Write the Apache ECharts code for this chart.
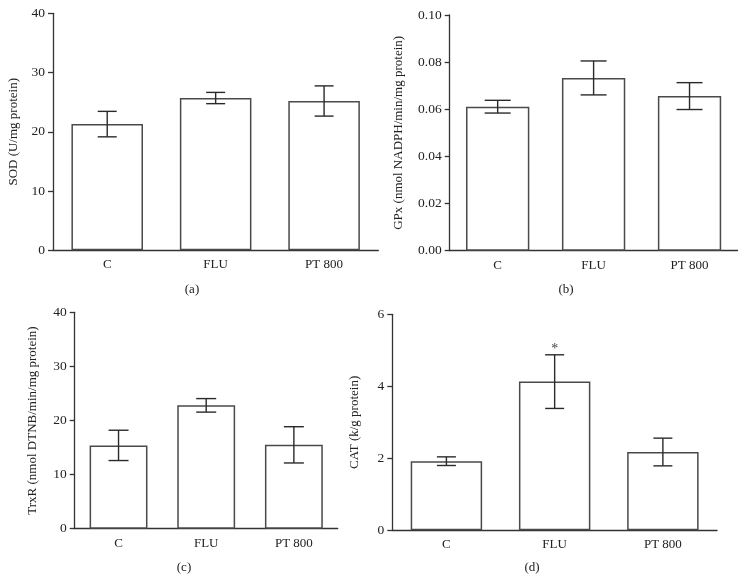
<!DOCTYPE html>
<html>
<head>
<meta charset="utf-8">
<script src="https://cdn.jsdelivr.net/npm/echarts@6/dist/echarts.min.js"></script>
<style>
html,body{margin:0;padding:0;background:#fff;}
#chart{width:746px;height:582px;}
</style>
</head>
<body>
<div id="chart"></div>
<script>
// ---- data ----
const categories = ['C', 'FLU', 'PT 800'];

const sodMean = [21.3, 25.7, 25.2];
const sodErr = [2.15, 0.95, 2.55];

const gpxMean = [0.0611, 0.0733, 0.0656];
const gpxErr = [0.0027, 0.0072, 0.0057];

const trxrMean = [15.4, 22.8, 15.5];
const trxrErr = [2.8, 1.25, 3.35];

const catMean = [1.92, 4.13, 2.175];
const catErr = [0.12, 0.745, 0.385];
const catSig = ['', '*', ''];

const noSig = ['', '', ''];

const captions = ['(a)', '(b)', '(c)', '(d)'];
const yNames = ['SOD (U/mg protein)', 'GPx (nmol NADPH/min/mg protein)', 'TrxR (nmol DTNB/min/mg protein)', 'CAT (k/g protein)'];

// ---- chart ----
const FONT = '"Liberation Serif", "Times New Roman", serif';
const TXT = '#222';
const AX = '#333';

const panels = [
  {grid: {left: 53, right: 367.7, top: 13.3, bottom: 331.7}, mean: sodMean, err: sodErr, sig: noSig, max: 40, interval: 10, gap: 33, cap: 19, fmt: v => String(v)},
  {grid: {left: 449.7, right: 8.5, top: 15, bottom: 331.3}, mean: gpxMean, err: gpxErr, sig: noSig, max: 0.1, interval: 0.02, gap: 45, cap: 26, fmt: v => v.toFixed(2)},
  {grid: {left: 74.7, right: 408.3, top: 312.3, bottom: 53.3}, mean: trxrMean, err: trxrErr, sig: noSig, max: 40, interval: 10, gap: 36, cap: 20, fmt: v => String(v)},
  {grid: {left: 392.3, right: 29, top: 314.3, bottom: 51.7}, mean: catMean, err: catErr, sig: catSig, max: 6, interval: 2, gap: 31, cap: 19, fmt: v => String(v)}
];

const grid = [], xAxis = [], yAxis = [], series = [];
panels.forEach((p, i) => {
  grid.push(Object.assign({containLabel: false}, p.grid));
  xAxis.push({
    type: 'category', gridIndex: i, data: categories,
    axisLine: {lineStyle: {color: AX, width: 1.3}},
    axisTick: {show: false},
    axisLabel: {color: TXT, fontFamily: FONT, fontSize: 13, margin: 8}
  });
  yAxis.push({
    type: 'value', gridIndex: i, min: 0, max: p.max, interval: p.interval,
    name: yNames[i], nameLocation: 'middle', nameRotate: 90, nameGap: p.gap,
    nameTextStyle: {color: TXT, fontFamily: FONT, fontSize: 13},
    axisLine: {show: true, lineStyle: {color: AX, width: 1.3}},
    axisTick: {show: true, length: 5, lineStyle: {color: AX, width: 1.3}},
    splitLine: {show: false},
    axisLabel: {color: TXT, fontFamily: FONT, fontSize: 13.5, margin: 8, formatter: p.fmt}
  });
  series.push({
    type: 'bar', xAxisIndex: i, yAxisIndex: i, data: p.mean, barWidth: '66%',
    itemStyle: {color: '#fff', borderColor: '#4a4a4a', borderWidth: 1.5},
    silent: true
  });
  const cap = p.cap;
  series.push({
    type: 'custom', xAxisIndex: i, yAxisIndex: i, z: 5, silent: true,
    data: p.mean.map((m, k) => [k, m, p.err[k]]),
    renderItem: function (params, api) {
      const k = api.value(0), m = api.value(1), e = api.value(2);
      const top = api.coord([k, m + e]);
      const bot = api.coord([k, m - e]);
      const st = {stroke: '#2a2a2a', lineWidth: 1.4};
      const children = [
        {type: 'line', shape: {x1: top[0], y1: top[1], x2: bot[0], y2: bot[1]}, style: st},
        {type: 'line', shape: {x1: top[0] - cap / 2, y1: top[1], x2: top[0] + cap / 2, y2: top[1]}, style: st},
        {type: 'line', shape: {x1: bot[0] - cap / 2, y1: bot[1], x2: bot[0] + cap / 2, y2: bot[1]}, style: st}
      ];
      const s = p.sig[k];
      if (s) {
        children.push({type: 'text', style: {text: s, x: top[0], y: top[1] - 5, align: 'center', verticalAlign: 'middle', fill: '#444', font: '14px ' + FONT}});
      }
      return {type: 'group', children: children};
    }
  });
});

const capPos = [[192, 290], [566, 290], [184, 568], [532, 568]];

const chart = echarts.init(document.getElementById('chart'), null, {renderer: 'canvas'});
chart.setOption({
  animation: false,
  backgroundColor: '#fff',
  grid, xAxis, yAxis, series,
  graphic: captions.map((c, i) => ({type: 'text', x: capPos[i][0], y: capPos[i][1], style: {text: c, fill: TXT, font: '13px ' + FONT, align: 'center', verticalAlign: 'middle'}}))
});
</script>
</body>
</html>
